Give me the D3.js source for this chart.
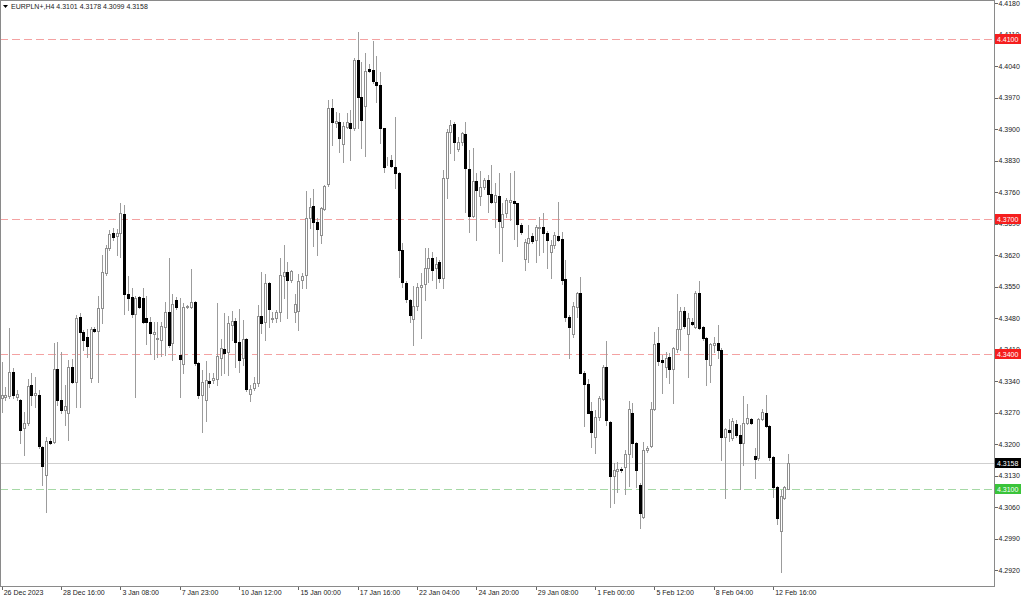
<!DOCTYPE html>
<html lang="en">
<head>
<meta charset="utf-8">
<title>EURPLN+,H4</title>
<script src="https://cdnjs.cloudflare.com/ajax/libs/d3/7.8.5/d3.min.js"></script>
<style>
	body { margin: 0; background: #fff; }
	svg text { font-family: "Liberation Sans", Arial, sans-serif; font-size: 7px; fill: #222; }
	.axis path { display: none; }
	.axis line { stroke: #666; shape-rendering: crispEdges; }
</style>
</head>
<body>
<script>
// chart size and plot frame
var w = 1024, h = 599;
var plotRight = 994, plotBottom = 586;

// H4 candles, 26 Dec 2023 .. 13 Feb 2024
var open = [
	4.3302,4.3304,4.3307,4.3360,4.3304,4.3298,4.3235,4.3246,4.3331,4.3309,
	4.3309,4.3193,4.3131,4.3207,4.3204,4.3367,4.3298,4.3276,4.3269,4.3371,
	4.3338,4.3482,4.3449,4.3437,4.3346,4.3455,4.3451,4.3502,4.3580,4.3635,
	4.3669,4.3662,4.3669,4.3711,4.3533,4.3526,4.3489,4.3526,4.3524,4.3480,
	4.3472,4.3444,4.3433,4.3431,4.3460,4.3494,4.3424,4.3520,4.3398,4.3378,
	4.3504,4.3504,4.3516,4.3380,4.3309,4.3298,4.3340,4.3342,4.3344,4.3391,
	4.3411,4.3405,4.3465,4.3474,4.3427,4.3391,4.3433,4.3311,4.3324,4.3336,
	4.3484,4.3472,4.3558,4.3478,4.3480,4.3494,4.3574,4.3583,4.3564,4.3494,
	4.3496,4.3564,4.3576,4.3702,4.3729,4.3693,4.3664,4.3722,4.3778,4.3947,
	4.3913,4.3916,4.3867,4.3905,4.3913,4.3902,4.4053,4.3971,4.3951,4.4033,
	4.4031,4.4004,4.3998,4.3902,4.3829,4.3831,4.3816,4.3802,4.3631,4.3558,
	4.3520,4.3478,4.3507,4.3549,4.3556,4.3591,4.3613,4.3591,4.3605,4.3569,
	4.3791,4.3893,4.3911,4.3856,4.3871,4.3889,4.3811,4.3707,4.3785,4.3751,
	4.3771,4.3787,4.3756,4.3738,4.3751,4.3682,4.3713,4.3738,4.3740,4.3735,
	4.3687,4.3611,4.3647,4.3662,4.3653,4.3680,4.3682,4.3669,4.3627,4.3642,
	4.3662,4.3656,4.3567,4.3482,4.3444,4.3504,4.3536,4.3358,4.3333,4.3273,
	4.3216,4.3260,4.3300,4.3371,4.3249,4.3129,4.3140,4.3144,4.3149,4.3178,
	4.3269,4.3202,4.3109,4.3038,4.3187,4.3196,4.3278,4.3424,4.3387,4.3371,
	4.3393,4.3367,4.3411,4.3455,4.3496,4.3444,4.3472,4.3460,4.3536,4.3460,
	4.3436,4.3376,4.3420,4.3424,4.3409,4.3216,4.3231,4.3213,4.3244,4.3220,
	4.3202,4.3247,4.3256,4.3173,4.3169,4.3256,4.3269,4.3240,4.3171,4.3104,
	4.3007,4.3080,4.3101
];
var high = [
	4.3383,4.3326,4.3458,4.3369,4.3320,4.3300,4.3272,4.3344,4.3357,4.3348,
	4.3320,4.3196,4.3215,4.3213,4.3424,4.3427,4.3405,4.3331,4.3387,4.3389,
	4.3487,4.3491,4.3453,4.3455,4.3460,4.3460,4.3529,4.3620,4.3642,4.3676,
	4.3680,4.3678,4.3735,4.3731,4.3574,4.3546,4.3529,4.3529,4.3546,4.3529,
	4.3482,4.3472,4.3472,4.3472,4.3516,4.3613,4.3533,4.3526,4.3524,4.3513,
	4.3509,4.3589,4.3518,4.3383,4.3364,4.3385,4.3358,4.3358,4.3513,4.3433,
	4.3491,4.3484,4.3496,4.3480,4.3500,4.3476,4.3436,4.3331,4.3349,4.3509,
	4.3583,4.3578,4.3560,4.3494,4.3498,4.3613,4.3642,4.3605,4.3587,4.3533,
	4.3578,4.3580,4.3762,4.3747,4.3767,4.3702,4.3727,4.3776,4.3964,4.3967,
	4.3938,4.3936,4.3916,4.3936,4.3942,4.4058,4.4116,4.4049,4.4069,4.4045,
	4.4096,4.4062,4.4027,4.3902,4.3838,4.3842,4.3927,4.3805,4.3647,4.3562,
	4.3522,4.3551,4.3558,4.3580,4.3635,4.3635,4.3627,4.3616,4.3609,4.3809,
	4.3900,4.3920,4.3916,4.3882,4.3893,4.3916,4.3853,4.3858,4.3802,4.3807,
	4.3791,4.3798,4.3820,4.3780,4.3802,4.3735,4.3747,4.3802,4.3807,4.3735,
	4.3691,4.3656,4.3687,4.3669,4.3687,4.3705,4.3713,4.3673,4.3653,4.3671,
	4.3738,4.3671,4.3609,4.3487,4.3516,4.3538,4.3571,4.3362,4.3344,4.3293,
	4.3276,4.3307,4.3376,4.3429,4.3251,4.3158,4.3160,4.3149,4.3187,4.3296,
	4.3291,4.3204,4.3113,4.3204,4.3196,4.3293,4.3449,4.3460,4.3398,4.3405,
	4.3402,4.3416,4.3533,4.3504,4.3504,4.3491,4.3480,4.3540,4.3562,4.3462,
	4.3438,4.3424,4.3438,4.3465,4.3413,4.3236,4.3256,4.3258,4.3253,4.3242,
	4.3307,4.3289,4.3258,4.3191,4.3258,4.3278,4.3309,4.3242,4.3173,4.3107,
	4.3098,4.3107,4.3178
];
var low = [
	4.3272,4.3298,4.3302,4.3302,4.3298,4.3202,4.3176,4.3242,4.3287,4.3282,
	4.3191,4.3109,4.3049,4.3200,4.3202,4.3287,4.3269,4.3242,4.3209,4.3336,
	4.3282,4.3282,4.3409,4.3393,4.3338,4.3449,4.3338,4.3469,4.3576,4.3631,
	4.3653,4.3620,4.3615,4.3489,4.3498,4.3482,4.3304,4.3502,4.3469,4.3422,
	4.3400,4.3389,4.3393,4.3396,4.3398,4.3416,4.3387,4.3500,4.3304,4.3358,
	4.3502,4.3502,4.3376,4.3302,4.3226,4.3251,4.3326,4.3336,4.3331,4.3353,
	4.3358,4.3353,4.3431,4.3371,4.3360,4.3376,4.3318,4.3296,4.3320,4.3329,
	4.3447,4.3431,4.3460,4.3472,4.3472,4.3474,4.3524,4.3480,4.3560,4.3472,
	4.3453,4.3547,4.3547,4.3680,4.3640,4.3620,4.3647,4.3720,4.3773,4.3864,
	4.3904,4.3849,4.3827,4.3902,4.3831,4.3898,4.3902,4.3858,4.3840,4.4027,
	4.4002,4.3960,4.3869,4.3805,4.3820,4.3816,4.3769,4.3571,4.3549,4.3516,
	4.3472,4.3420,4.3498,4.3436,4.3520,4.3560,4.3564,4.3547,4.3560,4.3547,
	4.3747,4.3847,4.3831,4.3851,4.3864,4.3716,4.3671,4.3705,4.3653,4.3731,
	4.3767,4.3716,4.3736,4.3682,4.3625,4.3607,4.3705,4.3698,4.3656,4.3640,
	4.3667,4.3587,4.3605,4.3647,4.3605,4.3620,4.3627,4.3591,4.3569,4.3635,
	4.3651,4.3556,4.3474,4.3391,4.3438,4.3482,4.3358,4.3240,4.3269,4.3193,
	4.3180,4.3253,4.3298,4.3242,4.3060,4.3069,4.3093,4.3138,4.3089,4.3107,
	4.3171,4.3104,4.3013,4.3036,4.3182,4.3193,4.3276,4.3376,4.3313,4.3349,
	4.3336,4.3291,4.3405,4.3409,4.3458,4.3349,4.3465,4.3458,4.3455,4.3431,
	4.3331,4.3338,4.3405,4.3391,4.3164,4.3080,4.3207,4.3209,4.3216,4.3100,
	4.3153,4.3244,4.3244,4.3124,4.3164,4.3253,4.3238,4.3164,4.3082,4.3022,
	4.2916,4.3078,4.3099
];
var close = [
	4.3309,4.3309,4.3360,4.3309,4.3311,4.3231,4.3246,4.3329,4.3309,4.3313,
	4.3196,4.3151,4.3207,4.3202,4.3367,4.3298,4.3276,4.3285,4.3371,4.3338,
	4.3480,4.3449,4.3431,4.3418,4.3455,4.3451,4.3502,4.3583,4.3635,4.3667,
	4.3660,4.3669,4.3713,4.3533,4.3524,4.3489,4.3524,4.3504,4.3472,4.3472,
	4.3446,4.3449,4.3435,4.3463,4.3494,4.3420,4.3511,4.3504,4.3389,4.3504,
	4.3507,4.3516,4.3380,4.3309,4.3338,4.3342,4.3336,4.3346,4.3396,4.3413,
	4.3402,4.3469,4.3474,4.3427,4.3387,4.3433,4.3322,4.3322,4.3336,4.3484,
	4.3469,4.3558,4.3500,4.3480,4.3494,4.3576,4.3583,4.3564,4.3585,4.3511,
	4.3562,4.3574,4.3702,4.3727,4.3693,4.3678,4.3725,4.3773,4.3947,4.3916,
	4.3918,4.3880,4.3907,4.3916,4.3902,4.4053,4.3971,4.3920,4.4029,4.4029,
	4.4007,4.3998,4.3902,4.3816,4.3829,4.3818,4.3802,4.3631,4.3560,4.3522,
	4.3487,4.3507,4.3549,4.3553,4.3591,4.3613,4.3587,4.3600,4.3569,4.3791,
	4.3893,4.3909,4.3871,4.3871,4.3891,4.3813,4.3707,4.3785,4.3764,4.3771,
	4.3787,4.3756,4.3738,4.3753,4.3696,4.3711,4.3742,4.3742,4.3735,4.3689,
	4.3671,4.3649,4.3658,4.3651,4.3682,4.3682,4.3669,4.3653,4.3642,4.3664,
	4.3653,4.3564,4.3482,4.3460,4.3507,4.3536,4.3358,4.3333,4.3269,4.3227,
	4.3260,4.3302,4.3371,4.3253,4.3129,4.3142,4.3144,4.3142,4.3178,4.3278,
	4.3202,4.3142,4.3047,4.3187,4.3191,4.3278,4.3422,4.3385,4.3383,4.3391,
	4.3367,4.3413,4.3455,4.3496,4.3463,4.3480,4.3467,4.3536,4.3458,4.3436,
	4.3389,4.3422,4.3424,4.3409,4.3216,4.3233,4.3227,4.3251,4.3220,4.3202,
	4.3247,4.3258,4.3247,4.3167,4.3256,4.3271,4.3240,4.3171,4.3104,4.3036,
	4.3085,4.3104,4.3158
];

// one time label every 16 bars
var timeLabels = ["26 Dec 2023", "28 Dec 16:00", "3 Jan 08:00", "7 Jan 23:00", "10 Jan 12:00",
	"15 Jan 00:00", "17 Jan 16:00", "22 Jan 04:00", "24 Jan 20:00", "29 Jan 08:00",
	"1 Feb 00:00", "5 Feb 12:00", "8 Feb 04:00", "12 Feb 16:00"];
var labelStep = 16;

var priceTicks = [4.4180, 4.4110, 4.4040, 4.3970, 4.3900, 4.3830, 4.3760, 4.3690, 4.3620,
	4.3550, 4.3480, 4.3410, 4.3340, 4.3270, 4.3200, 4.3130, 4.3060, 4.2990, 4.2920];

// horizontal levels
var redLevels = [4.4100, 4.3700, 4.3400];
var greenLevel = 4.3100;
var symbol = "EURPLN+,H4";

var n = open.length;
var last = n - 1;

var x = d3.scaleLinear().domain([0, last]).range([1.7, 788]);
var y = d3.scaleLinear().domain([4.2920, 4.4180]).range([570, 3]);
var fmt = d3.format(".4f");

var svg = d3.select("body").append("svg")
	.attr("width", w)
	.attr("height", h);

svg.append("rect").attr("width", w).attr("height", h).attr("fill", "#fff");

// level lines
svg.selectAll("line.level")
	.data(redLevels)
	.enter()
	.append("line")
	.attr("class", "level")
	.attr("x1", 0).attr("x2", plotRight)
	.attr("y1", function(d) { return Math.round(y(d)) + 0.5; })
	.attr("y2", function(d) { return Math.round(y(d)) + 0.5; })
	.attr("stroke", "#f4a2a2")
	.attr("stroke-dasharray", "8,4");

svg.append("line")
	.attr("x1", 0).attr("x2", plotRight)
	.attr("y1", Math.round(y(greenLevel)) + 0.5)
	.attr("y2", Math.round(y(greenLevel)) + 0.5)
	.attr("stroke", "#a6d9a6")
	.attr("stroke-dasharray", "8,4");

svg.append("line")
	.attr("x1", 0).attr("x2", plotRight)
	.attr("y1", Math.round(y(close[last])) + 0.5)
	.attr("y2", Math.round(y(close[last])) + 0.5)
	.attr("stroke", "#cfcfcf");

// candles
var idx = d3.range(n);
function cx(i) { return Math.round(x(i)) + 0.5; }

var candles = svg.append("g").attr("shape-rendering", "crispEdges");

candles.selectAll("line.wick")
	.data(idx)
	.enter()
	.append("line")
	.attr("class", "wick")
	.attr("x1", cx).attr("x2", cx)
	.attr("y1", function(i) { return Math.round(y(high[i])); })
	.attr("y2", function(i) { return Math.round(y(low[i])) + 1; })
	.attr("stroke", "#9c9c9c");

candles.selectAll("rect.up")
	.data(idx.filter(function(i) { return close[i] >= open[i]; }))
	.enter()
	.append("rect")
	.attr("class", "up")
	.attr("x", function(i) { return cx(i) - 1; })
	.attr("y", function(i) { return Math.round(y(close[i])) + 0.5; })
	.attr("width", 2)
	.attr("height", function(i) { return Math.round(y(open[i])) - Math.round(y(close[i])); })
	.attr("fill", "#fff")
	.attr("stroke", "#8f8f8f");

candles.selectAll("rect.down")
	.data(idx.filter(function(i) { return close[i] < open[i]; }))
	.enter()
	.append("rect")
	.attr("class", "down")
	.attr("x", function(i) { return cx(i) - 1.5; })
	.attr("y", function(i) { return Math.round(y(open[i])); })
	.attr("width", 3)
	.attr("height", function(i) { return Math.max(1, Math.round(y(close[i])) - Math.round(y(open[i])) + 1); })
	.attr("fill", "#000");

// frame
svg.append("rect")
	.attr("x", 0.5).attr("y", 0.5)
	.attr("width", plotRight - 0.5).attr("height", plotBottom - 0.5)
	.attr("fill", "none")
	.attr("stroke", "#8a8a8a")
	.attr("shape-rendering", "crispEdges");

// price axis
var yAxis = d3.axisRight(y)
	.tickValues(priceTicks)
	.tickSize(3)
	.tickPadding(1)
	.tickFormat(fmt);

svg.append("g")
	.attr("class", "y axis")
	.attr("transform", "translate(" + (plotRight + 0.5) + ",0)")
	.call(yAxis);

// time axis
var xAxis = d3.axisBottom(x)
	.tickValues(timeLabels.map(function(d, i) { return i * labelStep; }))
	.tickSize(3)
	.tickPadding(1)
	.tickFormat(function(d) { return timeLabels[d / labelStep]; });

svg.append("g")
	.attr("class", "x axis")
	.attr("transform", "translate(0," + (plotBottom + 0.5) + ")")
	.call(xAxis)
	.selectAll("text")
	.attr("text-anchor", "start")
	.attr("dx", 1.5);

// price tags on the axis
function tag(value, color) {
	var g = svg.append("g");
	g.append("rect")
		.attr("x", plotRight + 1)
		.attr("y", Math.round(y(value)) - 5)
		.attr("width", 26)
		.attr("height", 10)
		.attr("fill", color);
	g.append("text")
		.attr("x", plotRight + 3)
		.attr("y", Math.round(y(value)) + 2.5)
		.style("fill", "#fff")
		.text(fmt(value));
}
redLevels.forEach(function(v) { tag(v, "#f51e1e"); });
tag(greenLevel, "#3ac43a");
tag(close[last], "#000");

// header
svg.append("path")
	.attr("d", "M3,5 L8,5 L5.5,8 Z")
	.attr("fill", "#000");

svg.append("text")
	.attr("x", 11)
	.attr("y", 8.5)
	.text(symbol + "  " + [open[last], high[last], low[last], close[last]].map(fmt).join(" "));
</script>
</body>
</html>
